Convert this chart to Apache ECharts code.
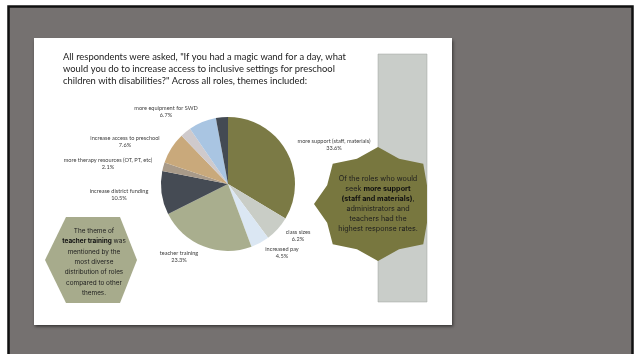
<!DOCTYPE html>
<html>
<head>
<meta charset="utf-8">
<script src="https://cdn.jsdelivr.net/npm/echarts@6/dist/echarts.min.js"></script>
<style>
  html, body { margin: 0; padding: 0; background: #fff; }
  #chart { width: 634px; height: 354px; }
</style>
</head>
<body>
<div id="chart"></div>
<script>
// data
var themes = [
  'more support (staff, materials)',
  'class sizes',
  'increased pay',
  'teacher training',
  'increase district funding',
  'more therapy resources (OT, PT, etc)',
  'increase access to preschool',
  'unlabeled theme 1',
  'more equipment for SWD',
  'unlabeled theme 2'
];
var shares = [33.6, 6.2, 4.5, 23.3, 10.5, 2.1, 7.6, 2.6, 6.7, 2.9];
var labelled = [true, true, true, true, true, true, true, false, true, false];

var titleLines = [
  'All respondents were asked, "If you had a magic wand for a day, what',
  'would you do to increase access to inclusive settings for preschool',
  'children with disabilities?" Across all roles, themes included:'
];
var starLines = [
  'Of the roles who would',
  'seek {b|more support}',
  '{b|(staff and materials)},',
  'administrators and',
  'teachers had the',
  'highest response rates.'
];
var hexLines = [
  'The theme of',
  '{b|teacher training} was',
  'mentioned by the',
  'most diverse',
  'distribution of roles',
  'compared to other',
  'themes.'
];

// styling
var sliceColors = ['#7b7a45', '#c9cdc6', '#dbe7f3', '#a9ae8e', '#454b54',
                   '#a89a89', '#c9a97b', '#cfcacc', '#a9c5e2', '#434a53'];
var labelPos = [[334, 145], [298, 236], [282, 253], [179, 256.5], [119, 194.5],
                [108, 164], [125, 142], [0, 0], [166, 111.7], [0, 0]];

// 8 point seal shape right of the pie, cut at the grey column edge
function starPoints (cx, cy, rx, ry, inner, maxX) {
  var pts = [];
  for (var k = 0; k < 16; k++) {
    var a = Math.PI / 2 - k * Math.PI / 8;
    var f = k % 2 === 0 ? 1 : inner;
    var x = cx + rx * f * Math.cos(a);
    var y = cy - ry * f * Math.sin(a);
    pts.push([Math.min(x, maxX), y]);
  }
  return pts;
}

var chart = echarts.init(document.getElementById('chart'));
chart.setOption({
  animation: false,
  graphic: [
    {
      type: 'rect', silent: true,
      shape: { x: 8.5, y: 6.5, width: 624, height: 360 },
      style: { fill: '#757170', stroke: '#111', lineWidth: 2.5 }
    },
    {
      type: 'rect', silent: true,
      shape: { x: 34, y: 38, width: 418, height: 287 },
      style: { fill: '#fff', shadowBlur: 3, shadowOffsetX: 1, shadowOffsetY: 1.5, shadowColor: 'rgba(0,0,0,0.55)' }
    },
    {
      type: 'rect', silent: true,
      shape: { x: 378, y: 54, width: 49, height: 248 },
      style: { fill: '#c9cdc9', stroke: '#9da19d', lineWidth: 0.5 }
    },
    {
      type: 'text', silent: true, x: 63, y: 51.5,
      style: {
        text: titleLines.join('\n'),
        font: '9.4px Lato', lineHeight: 11.6, fill: '#222',
        align: 'left', verticalAlign: 'top'
      }
    },
    {
      type: 'polygon', silent: true,
      shape: { points: starPoints(378, 204, 64, 57, 0.86, 427) },
      style: { fill: '#78773f' }
    },
    {
      type: 'text', silent: true, x: 378, y: 204.2,
      style: {
        text: starLines.join('\n'),
        fontFamily: 'Inter', fontSize: 7.2, lineHeight: 9.95, fill: '#1e1e1e',
        align: 'center', verticalAlign: 'middle',
        rich: { b: { fontFamily: 'Inter', fontSize: 7.2, fontWeight: 'bold', fill: '#111', lineHeight: 9.95 } }
      }
    },
    {
      type: 'polygon', silent: true,
      shape: { points: [[45, 260], [66, 217], [120, 217], [137, 260], [120, 303], [66, 303]] },
      style: { fill: '#a7ab8c' }
    },
    {
      type: 'text', silent: true, x: 94, y: 262,
      style: {
        text: hexLines.join('\n'),
        fontFamily: 'Inter', fontSize: 6.4, lineHeight: 10.4, fill: '#1e1e1e',
        align: 'center', verticalAlign: 'middle',
        rich: { b: { fontFamily: 'Inter', fontSize: 6.4, fontWeight: 'bold', fill: '#111', lineHeight: 10.4 } }
      }
    }
  ],
  series: [{
    type: 'pie',
    silent: true,
    center: [228, 184],
    radius: 67,
    startAngle: 90,
    clockwise: true,
    avoidLabelOverlap: false,
    itemStyle: { borderWidth: 0 },
    data: themes.map(function (name, i) {
      return { name: name, value: shares[i], itemStyle: { color: sliceColors[i] }, label: { show: labelled[i] } };
    }),
    label: {
      position: 'outside',
      formatter: function (p) { return p.name + '\n' + p.value.toFixed(1) + '%'; },
      fontFamily: 'Lato', fontSize: 5.6, lineHeight: 7.2, color: '#404040', align: 'center'
    },
    labelLine: { show: false },
    labelLayout: function (p) {
      var pos = labelPos[p.dataIndex];
      return { x: pos[0], y: pos[1], align: 'center', verticalAlign: 'middle' };
    }
  }]
});
</script>
</body>
</html>
